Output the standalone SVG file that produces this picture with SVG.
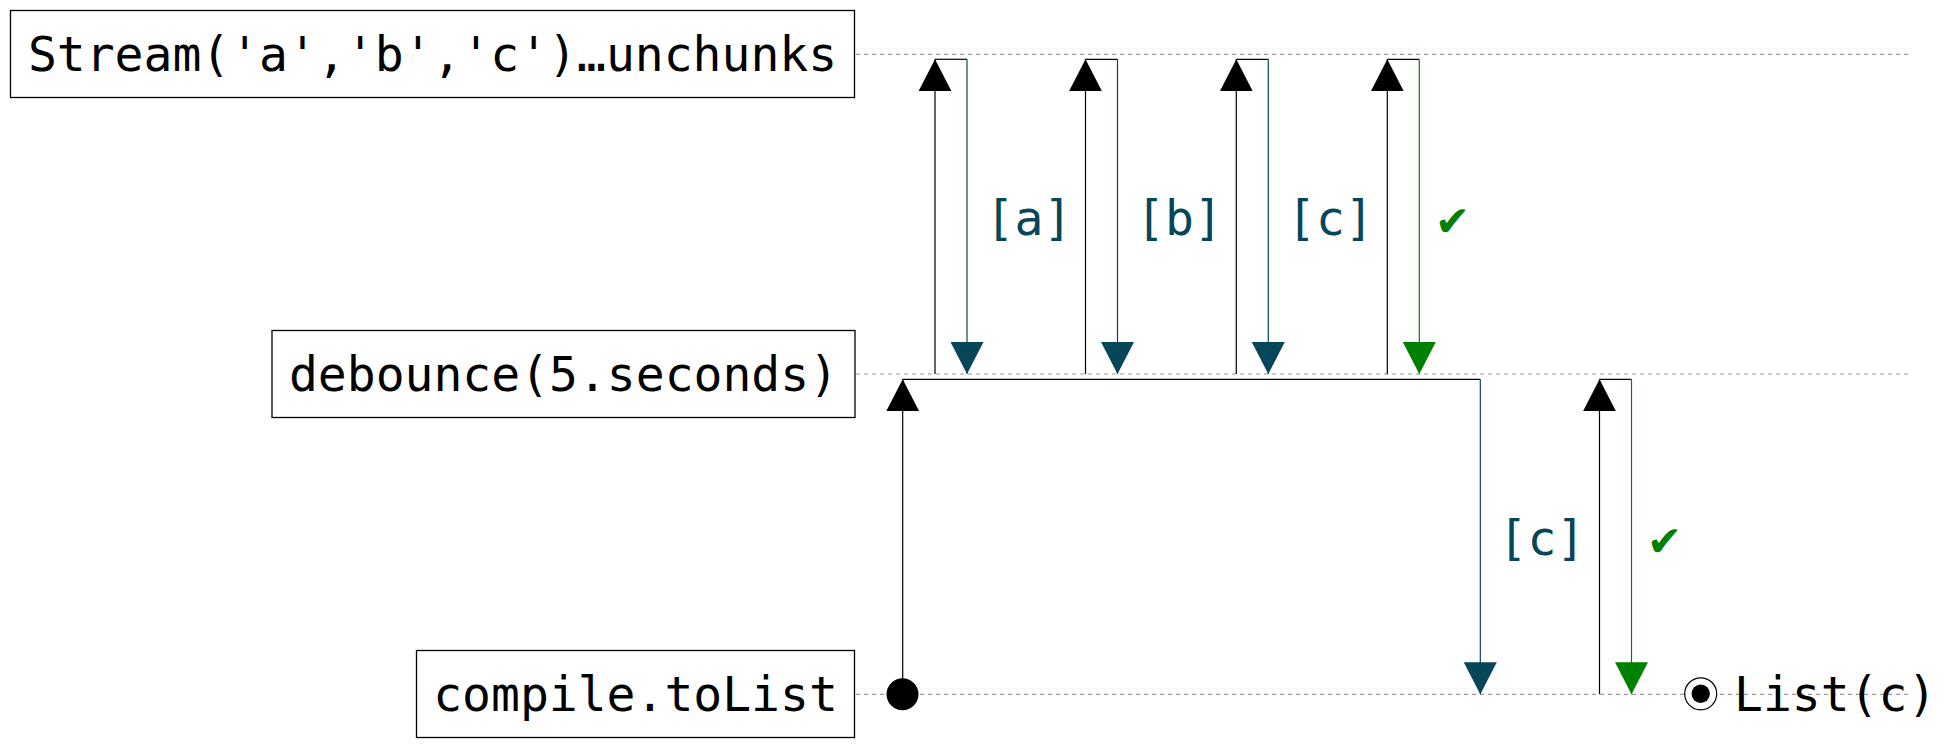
<svg xmlns="http://www.w3.org/2000/svg" width="1946" height="748" viewBox="0 0 1946 748">
<style>
.bg{fill:#ffffff}
.box{fill:#ffffff;stroke:#000000;stroke-width:1.3}
.nt{font-family:"DejaVu Sans Mono","Liberation Mono",monospace;font-size:48px;fill:#000000}
.life{stroke:#999999;stroke-width:1.2;stroke-dasharray:4 4;fill:none}
.up{stroke:#000000;stroke-width:1.2;fill:none;marker-end:url(#ahBlack)}
.join{stroke:#000000;stroke-width:1.2;fill:none}
.dt{stroke:#074559;stroke-width:1.2;fill:none;marker-end:url(#ahTeal)}
.dg{stroke:#008000;stroke-width:1.2;fill:none;marker-end:url(#ahGreen)}
.lt{font-family:"DejaVu Sans Mono","Liberation Mono",monospace;font-size:48px;fill:#074559}
.lg{font-family:"DejaVu Sans Mono","Liberation Mono",monospace;font-size:48px;fill:#008000}
</style>
<defs>
<marker id="ahBlack" viewBox="0 0 32 33" refX="32" refY="16.5" markerWidth="32" markerHeight="33" markerUnits="userSpaceOnUse" orient="auto"><path d="M0,0 L32,16.5 L0,33 z" fill="#000000"/></marker>
<marker id="ahTeal" viewBox="0 0 32 33" refX="32" refY="16.5" markerWidth="32" markerHeight="33" markerUnits="userSpaceOnUse" orient="auto"><path d="M0,0 L32,16.5 L0,33 z" fill="#074559"/></marker>
<marker id="ahGreen" viewBox="0 0 32 33" refX="32" refY="16.5" markerWidth="32" markerHeight="33" markerUnits="userSpaceOnUse" orient="auto"><path d="M0,0 L32,16.5 L0,33 z" fill="#008000"/></marker>
</defs>
<rect class="bg" x="0" y="0" width="1946" height="748"/>
<g id="lifelines">
<path class="life" d="M856,54.3 H1912"/>
<path class="life" d="M856,374 H1912"/>
<path class="life" d="M856,694.3 H1912"/>
</g>
<g id="node-stream">
<rect class="box" x="10.5" y="10.5" width="844" height="87"/>
<text class="nt" x="432.5" y="71" text-anchor="middle">Stream('a','b','c')…unchunks</text>
</g>
<g id="node-debounce">
<rect class="box" x="272" y="330.5" width="583" height="87"/>
<text class="nt" x="563.5" y="391" text-anchor="middle">debounce(5.seconds)</text>
</g>
<g id="node-compile">
<rect class="box" x="416.5" y="650.5" width="438" height="87"/>
<text class="nt" x="635.5" y="711" text-anchor="middle">compile.toList</text>
</g>
<g id="connectors">
<path class="up" d="M935,374 V59.3"/>
<path class="join" d="M935,59.3 H967"/>
<path class="dt" d="M967,59.3 V374"/>
<path class="up" d="M1085.5,374 V59.3"/>
<path class="join" d="M1085.5,59.3 H1117.5"/>
<path class="dt" d="M1117.5,59.3 V374"/>
<path class="up" d="M1236.3,374 V59.3"/>
<path class="join" d="M1236.3,59.3 H1268.3"/>
<path class="dt" d="M1268.3,59.3 V374"/>
<path class="up" d="M1387.3,374 V59.3"/>
<path class="join" d="M1387.3,59.3 H1419.3"/>
<path class="dg" d="M1419.3,59.3 V374"/>
<circle cx="902.5" cy="694.3" r="16" fill="#000000"/>
<path class="up" d="M902.7,694.3 V379.3"/>
<path class="join" d="M902.7,379.3 H1480.3"/>
<path class="dt" d="M1480.3,379.3 V694.3"/>
<path class="up" d="M1599.5,694.3 V379.3"/>
<path class="join" d="M1599.5,379.3 H1631.5"/>
<path class="dg" d="M1631.5,379.3 V694.3"/>
</g>
<g id="labels">
<text class="lt" x="985.5" y="234.5">[a]</text>
<text class="lt" x="1136" y="234.5">[b]</text>
<text class="lt" x="1287" y="234.5">[c]</text>
<text class="lg" x="1438" y="234.5">✔</text>
<text class="lt" x="1498.5" y="554.5">[c]</text>
<text class="lg" x="1650" y="554.5">✔</text>
</g>
<g id="final-state">
<circle cx="1700.7" cy="693.8" r="16" fill="#ffffff" stroke="#000000" stroke-width="1.2"/>
<circle cx="1700.7" cy="693.8" r="9.2" fill="#000000"/>
<text class="nt" x="1734" y="711">List(c)</text>
</g>
</svg>
